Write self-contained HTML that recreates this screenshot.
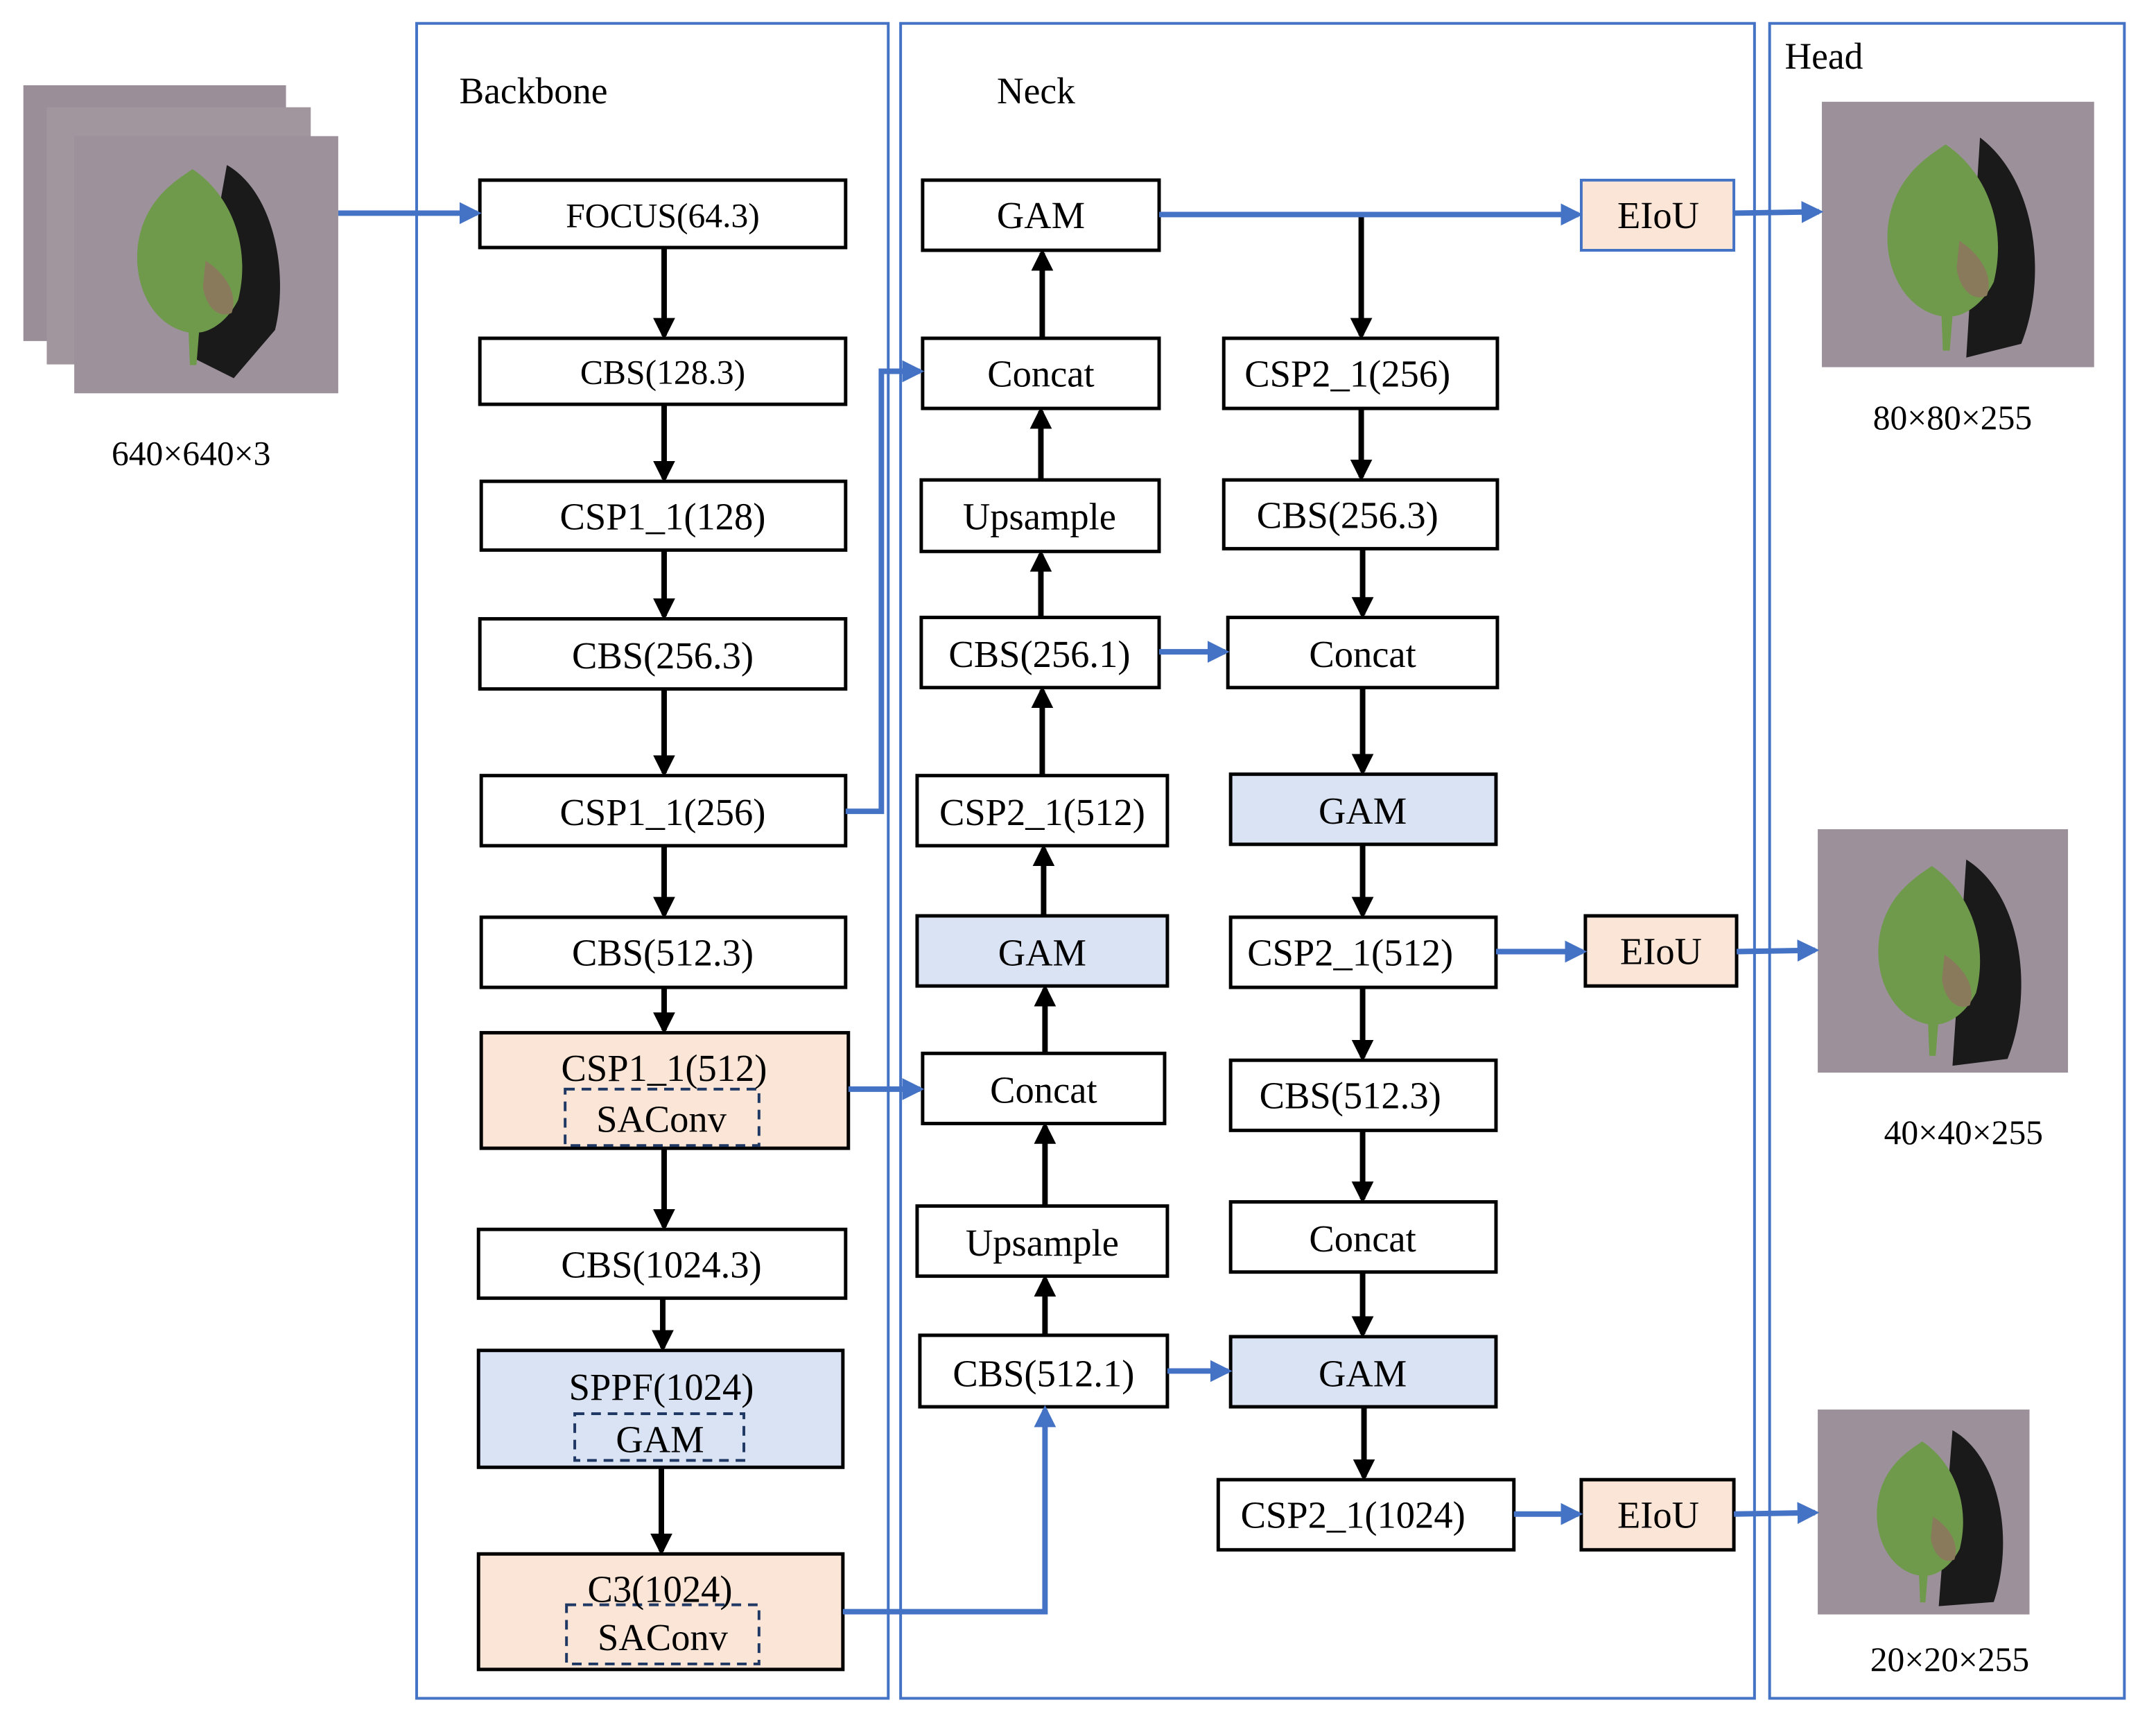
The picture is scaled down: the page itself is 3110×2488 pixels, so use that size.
<!DOCTYPE html>
<html><head><meta charset="utf-8"><style>html,body{margin:0;padding:0;background:#fff}svg{display:block}</style></head><body>
<svg width="3110" height="2488" viewBox="0 0 1568 1254.4" preserveAspectRatio="none" xmlns="http://www.w3.org/2000/svg" font-family="Liberation Serif, serif">
<defs>
<marker id="bk" markerWidth="4" markerHeight="4" refX="3.2" refY="2" orient="auto" markerUnits="strokeWidth"><path d="M0,0 L4,2 L0,4 z" fill="#000"/></marker>
<marker id="bl" markerWidth="4" markerHeight="4" refX="3.2" refY="2" orient="auto" markerUnits="strokeWidth"><path d="M0,0 L4,2 L0,4 z" fill="#4472c4"/></marker>
<g id="leaf">
<path d="M0,-60 C30,-40 45,0 35,40 C25,60 10,65 5,65 L3,90 L-2,90 L-3,65 C-30,60 -45,30 -42,0 C-38,-35 -15,-50 0,-60z" fill="#6f9a4c"/>
<path d="M10,10 C25,20 35,35 30,50 C20,55 10,45 8,30z" fill="#8a7a5c"/>
</g>
</defs>
<g fill="none" stroke="#4472c4" stroke-width="2">
<rect x="303" y="17" width="343" height="1218"/>
<rect x="655" y="17" width="621" height="1218"/>
<rect x="1287" y="17" width="258" height="1218"/>
</g>
<g font-size="27" fill="#000">
<text x="334" y="75">Backbone</text>
<text x="725" y="75">Neck</text>
<text x="1298" y="50">Head</text>
</g>
<rect x="17" y="62" width="191" height="186" fill="#9a8f98"/>
<rect x="34" y="78" width="192" height="187" fill="#a1959e"/>
<rect x="54" y="99" width="192" height="187" fill="#9d929b"/>
<path d="M165,120 C200,140 210,200 200,240 L170,275 L140,260z" fill="#1a1a1a"/>
<use href="#leaf" transform="translate(140,180) scale(0.95)"/>
<text x="139" y="338" font-size="25" text-anchor="middle">640×640×3</text>
<rect x="1325" y="74" width="198" height="193" fill="#9c919a"/>
<path d="M1440,100 C1480,130 1490,200 1470,250 L1430,260z" fill="#1a1a1a"/>
<use href="#leaf" transform="translate(1415,165) scale(1.0)"/>
<text x="1420" y="312" font-size="25" text-anchor="middle">80×80×255</text>
<rect x="1322" y="603" width="182" height="177" fill="#9c919a"/>
<path d="M1430,625 C1470,650 1480,720 1460,770 L1420,775z" fill="#1a1a1a"/>
<use href="#leaf" transform="translate(1405,685) scale(0.92)"/>
<text x="1428" y="832" font-size="25" text-anchor="middle">40×40×255</text>
<rect x="1322" y="1025" width="154" height="149" fill="#9c919a"/>
<path d="M1420,1040 C1455,1060 1465,1120 1450,1165 L1410,1168z" fill="#1a1a1a"/>
<use href="#leaf" transform="translate(1398,1095) scale(0.78)"/>
<text x="1418" y="1215" font-size="25" text-anchor="middle">20×20×255</text>

<g stroke="#000" stroke-width="2.5" fill="#fff">
<rect x="349" y="131" width="266" height="49"/>
<rect x="349" y="246" width="266" height="48"/>
<rect x="350" y="350" width="265" height="50"/>
<rect x="349" y="450" width="266" height="51"/>
<rect x="350" y="564" width="265" height="51"/>
<rect x="350" y="667" width="265" height="51"/>
<rect x="350" y="751" width="267" height="84" fill="#fbe5d6"/>
<rect x="348" y="894" width="267" height="50"/>
<rect x="348" y="982" width="265" height="85" fill="#dae3f3"/>
<rect x="348" y="1130" width="265" height="84" fill="#fbe5d6"/>

<rect x="671" y="131" width="172" height="51"/>
<rect x="671" y="246" width="172" height="51"/>
<rect x="670" y="349" width="173" height="52"/>
<rect x="670" y="449" width="173" height="51"/>
<rect x="667" y="564" width="182" height="51"/>
<rect x="667" y="666" width="182" height="51" fill="#dae3f3"/>
<rect x="671" y="766" width="176" height="51"/>
<rect x="667" y="877" width="182" height="51"/>
<rect x="669" y="971" width="180" height="52"/>

<rect x="890" y="246" width="199" height="51"/>
<rect x="890" y="349" width="199" height="50"/>
<rect x="893" y="449" width="196" height="51"/>
<rect x="895" y="563" width="193" height="51" fill="#dae3f3"/>
<rect x="895" y="667" width="193" height="51"/>
<rect x="895" y="771" width="193" height="51"/>
<rect x="895" y="874" width="193" height="51"/>
<rect x="895" y="972" width="193" height="51" fill="#dae3f3"/>
<rect x="886" y="1076" width="215" height="51"/>

<rect x="1153" y="666" width="110" height="51" fill="#fbe5d6"/>
<rect x="1150" y="1076" width="111" height="51" fill="#fbe5d6"/>
</g>
<rect x="1150" y="131" width="111" height="51" fill="#fbe5d6" stroke="#4472c4" stroke-width="2"/>
<g fill="none" stroke="#1f3864" stroke-width="2" stroke-dasharray="7,5">
<rect x="411" y="792" width="141" height="41"/>
<rect x="418" y="1028" width="123" height="34"/>
<rect x="412" y="1167" width="140" height="43"/>
</g>

<g font-size="27.5" text-anchor="middle" fill="#000">
<text x="482" y="165" font-size="25">FOCUS(64.3)</text>
<text x="482" y="279" font-size="25">CBS(128.3)</text>
<text x="482" y="385">CSP1_1(128)</text>
<text x="482" y="486">CBS(256.3)</text>
<text x="482" y="600">CSP1_1(256)</text>
<text x="482" y="702">CBS(512.3)</text>
<text x="483" y="786">CSP1_1(512)</text>
<text x="481" y="823">SAConv</text>
<text x="481" y="929">CBS(1024.3)</text>
<text x="481" y="1018">SPPF(1024)</text>
<text x="480" y="1056">GAM</text>
<text x="480" y="1165">C3(1024)</text>
<text x="482" y="1200">SAConv</text>

<text x="757" y="166">GAM</text>
<text x="757" y="281">Concat</text>
<text x="756" y="385">Upsample</text>
<text x="756" y="485">CBS(256.1)</text>
<text x="758" y="600">CSP2_1(512)</text>
<text x="758" y="702">GAM</text>
<text x="759" y="802">Concat</text>
<text x="758" y="913">Upsample</text>
<text x="759" y="1008">CBS(512.1)</text>

<text x="980" y="281">CSP2_1(256)</text>
<text x="980" y="384">CBS(256.3)</text>
<text x="991" y="485">Concat</text>
<text x="991" y="599">GAM</text>
<text x="982" y="702">CSP2_1(512)</text>
<text x="982" y="806">CBS(512.3)</text>
<text x="991" y="910">Concat</text>
<text x="991" y="1008">GAM</text>
<text x="984" y="1111">CSP2_1(1024)</text>

<text x="1206" y="166">EIoU</text>
<text x="1208" y="701">EIoU</text>
<text x="1206" y="1111">EIoU</text>
</g>

<g stroke="#000" stroke-width="4" fill="none" marker-end="url(#bk)">
<line x1="483" y1="180" x2="483" y2="244"/>
<line x1="483" y1="294" x2="483" y2="348"/>
<line x1="483" y1="400" x2="483" y2="448"/>
<line x1="483" y1="501" x2="483" y2="562"/>
<line x1="483" y1="615" x2="483" y2="665"/>
<line x1="483" y1="718" x2="483" y2="749"/>
<line x1="483" y1="835" x2="483" y2="892"/>
<line x1="482" y1="944" x2="482" y2="980"/>
<line x1="481" y1="1067" x2="481" y2="1128"/>

<line x1="758" y1="246" x2="758" y2="184"/>
<line x1="757" y1="349" x2="757" y2="299"/>
<line x1="757" y1="449" x2="757" y2="403"/>
<line x1="758" y1="564" x2="758" y2="502"/>
<line x1="759" y1="666" x2="759" y2="617"/>
<line x1="760" y1="766" x2="760" y2="719"/>
<line x1="760" y1="877" x2="760" y2="819"/>
<line x1="760" y1="971" x2="760" y2="930"/>

<line x1="990" y1="157" x2="990" y2="244"/>
<line x1="990" y1="297" x2="990" y2="347"/>
<line x1="991" y1="399" x2="991" y2="447"/>
<line x1="991" y1="500" x2="991" y2="561"/>
<line x1="991" y1="614" x2="991" y2="665"/>
<line x1="991" y1="718" x2="991" y2="769"/>
<line x1="991" y1="822" x2="991" y2="872"/>
<line x1="991" y1="925" x2="991" y2="970"/>
<line x1="992" y1="1023" x2="992" y2="1074"/>
</g>

<g stroke="#4472c4" stroke-width="4" fill="none" marker-end="url(#bl)">
<line x1="246" y1="155" x2="347" y2="155"/>
<polyline points="615,590 641,590 641,270 669,270"/>
<line x1="617" y1="792" x2="669" y2="792"/>
<polyline points="613,1172 760,1172 760,1025"/>
<line x1="843" y1="474" x2="891" y2="474"/>
<line x1="849" y1="997" x2="893" y2="997"/>
<line x1="843" y1="156" x2="1148" y2="156"/>
<line x1="1261" y1="155" x2="1323" y2="154"/>
<line x1="1088" y1="692" x2="1151" y2="692"/>
<line x1="1263" y1="692" x2="1320" y2="691"/>
<line x1="1101" y1="1101" x2="1148" y2="1101"/>
<line x1="1261" y1="1101" x2="1320" y2="1100"/>
</g>
</svg>
</body></html>
